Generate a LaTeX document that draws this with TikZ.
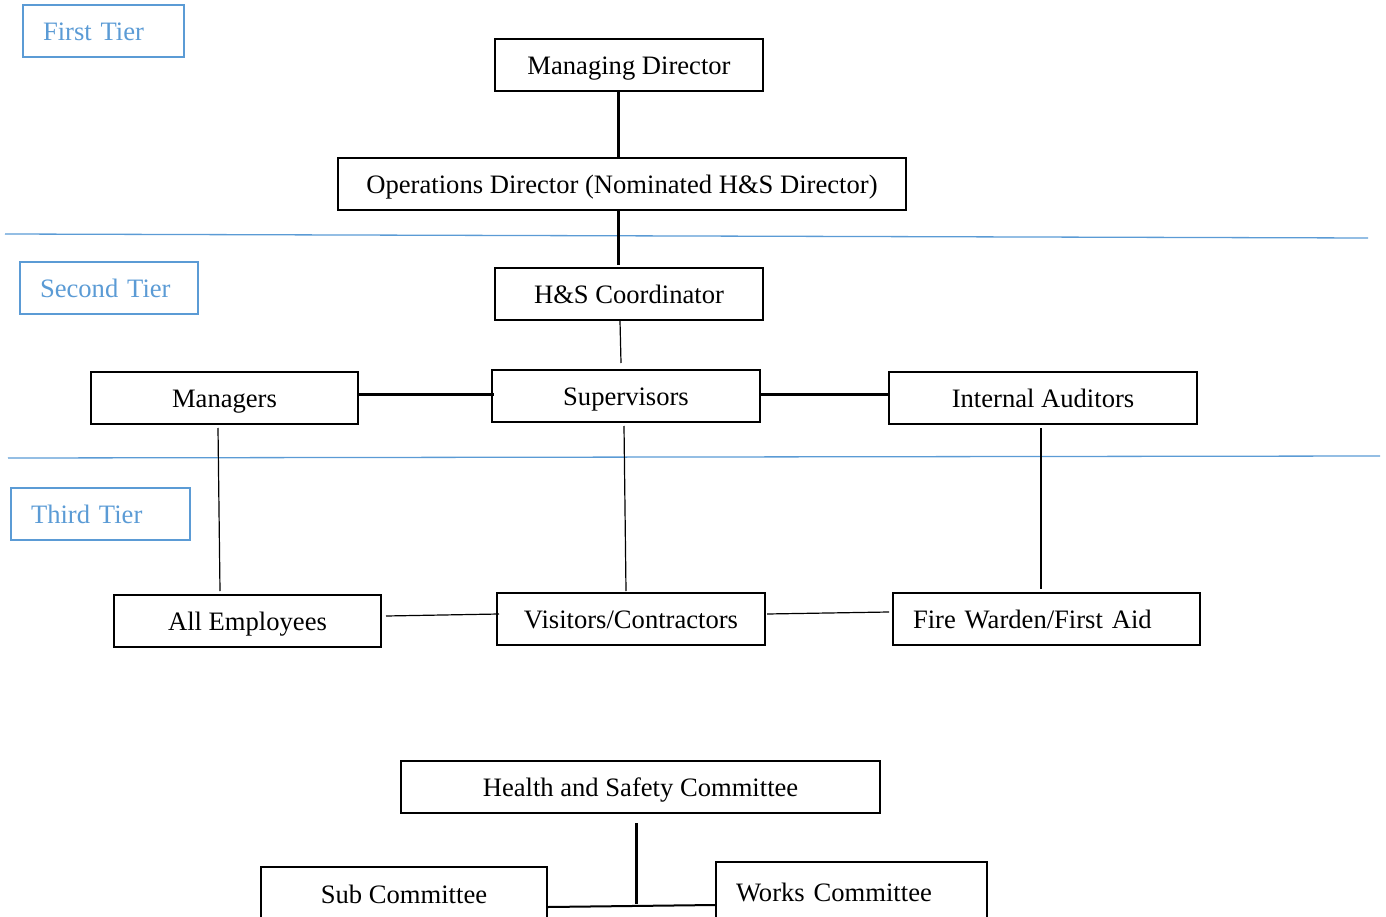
\documentclass[tikz,border=0pt]{standalone}
\usepackage{fontspec}
\setmainfont{Liberation Serif}
\usetikzlibrary{positioning}
\definecolor{tierblue}{RGB}{91,155,213}

\begin{document}
\begin{tikzpicture}[x=1pt,y=-1pt,
	font=\fontsize{26.6}{31}\selectfont,
	post/.style={draw, line width=2pt, minimum height=52pt, inner sep=0pt, text height=24pt, text depth=5pt},
	tier/.style={draw=tierblue, text=tierblue, line width=2pt, minimum height=52pt, inner xsep=20pt, inner ysep=0pt, align=left, text height=24pt, text depth=5pt},
	leftpost/.style={post, inner xsep=20pt, align=left},
	bar/.style={line width=3pt},
	wire/.style={line width=1.2pt},
	divider/.style={tierblue, line width=1.3pt}]
		\useasboundingbox (0,0) rectangle (1386,917);
		\clip (0,0) rectangle (1386,917);

		\draw[divider] (5,234) -- (1368,238);
		\draw[divider] (8,458) -- (1380,456);

		\draw (103.5,31) node [tier, text width=121pt] (t1) {First Tier};
		\draw (109,288) node [tier, text width=138pt] (t2) {Second Tier};
		\draw (100.5,514) node [tier, text width=139pt] (t3) {Third Tier};

		\draw (629,65) node [post, minimum width=268pt] (md) {Managing Director};
		\draw (622,184) node [post, minimum width=568pt] (od) {Operations Director (Nominated H\&S Director)};
		\draw (629,294) node [post, minimum width=268pt] (hsc) {H\&S Coordinator};
		\draw (224.5,398) node [post, minimum width=267pt] (mgr) {Managers};
		\draw (626,396) node [post, minimum width=268pt] (sup) {Supervisors};
		\draw (1043,398) node [post, minimum width=308pt] (ia) {Internal Auditors};
		\draw (247.5,621) node [post, minimum width=267pt] (emp) {All Employees};
		\draw (631,619) node [post, minimum width=268pt] (vis) {Visitors/Contractors};
		\draw (1046.5,619) node [leftpost, text width=267pt] (fw) {Fire Warden/First Aid};
		\draw (640.5,787) node [post, minimum width=479pt] (hscom) {Health and Safety Committee};
		\draw (404,894) node [post, minimum width=286pt, minimum height=54pt] (sub) {Sub Committee};
		\draw (851.5,891.5) node [leftpost, text width=231pt, minimum height=59pt] (works) {Works Committee};
		\coordinate (join) at (636,904);

		\draw
			([xshift=-11pt]md.south) edge [bar] ([xshift=-4pt]od.north)
			([xshift=-4pt]od.south) edge [bar] ([xshift=-11pt,yshift=2pt]hsc.north)
			([xshift=-9pt]hsc.south) edge [wire] ([xshift=-5pt,yshift=6pt]sup.north)
			([yshift=4pt]mgr.east) edge [bar] ([xshift=3pt,yshift=2pt]sup.west)
			([yshift=2pt]sup.east) edge [bar] ([yshift=4pt]ia.west)
			([xshift=-6.5pt,yshift=-3pt]mgr.south) edge [wire] ([xshift=-27.5pt,yshift=3pt]emp.north)
			([xshift=-2pt,yshift=-3pt]sup.south) edge [wire] ([xshift=-5pt,yshift=1pt]vis.north)
			([xshift=-2pt,yshift=-3pt]ia.south) edge [line width=1.8pt] ([xshift=-5.5pt,yshift=3pt]fw.north)
			([xshift=4pt,yshift=5pt]emp.east) edge [wire] ([xshift=3pt,yshift=5pt]vis.west)
			([xshift=1pt,yshift=5pt]vis.east) edge [wire] ([xshift=-3pt,yshift=7pt]fw.west)
			([xshift=-4.5pt,yshift=-9pt]hscom.south) edge [bar] (join)
			([yshift=-13pt]sub.east) edge [line width=2pt] ([yshift=-13.5pt]works.west)
		;
	\end{tikzpicture}
\end{document}
